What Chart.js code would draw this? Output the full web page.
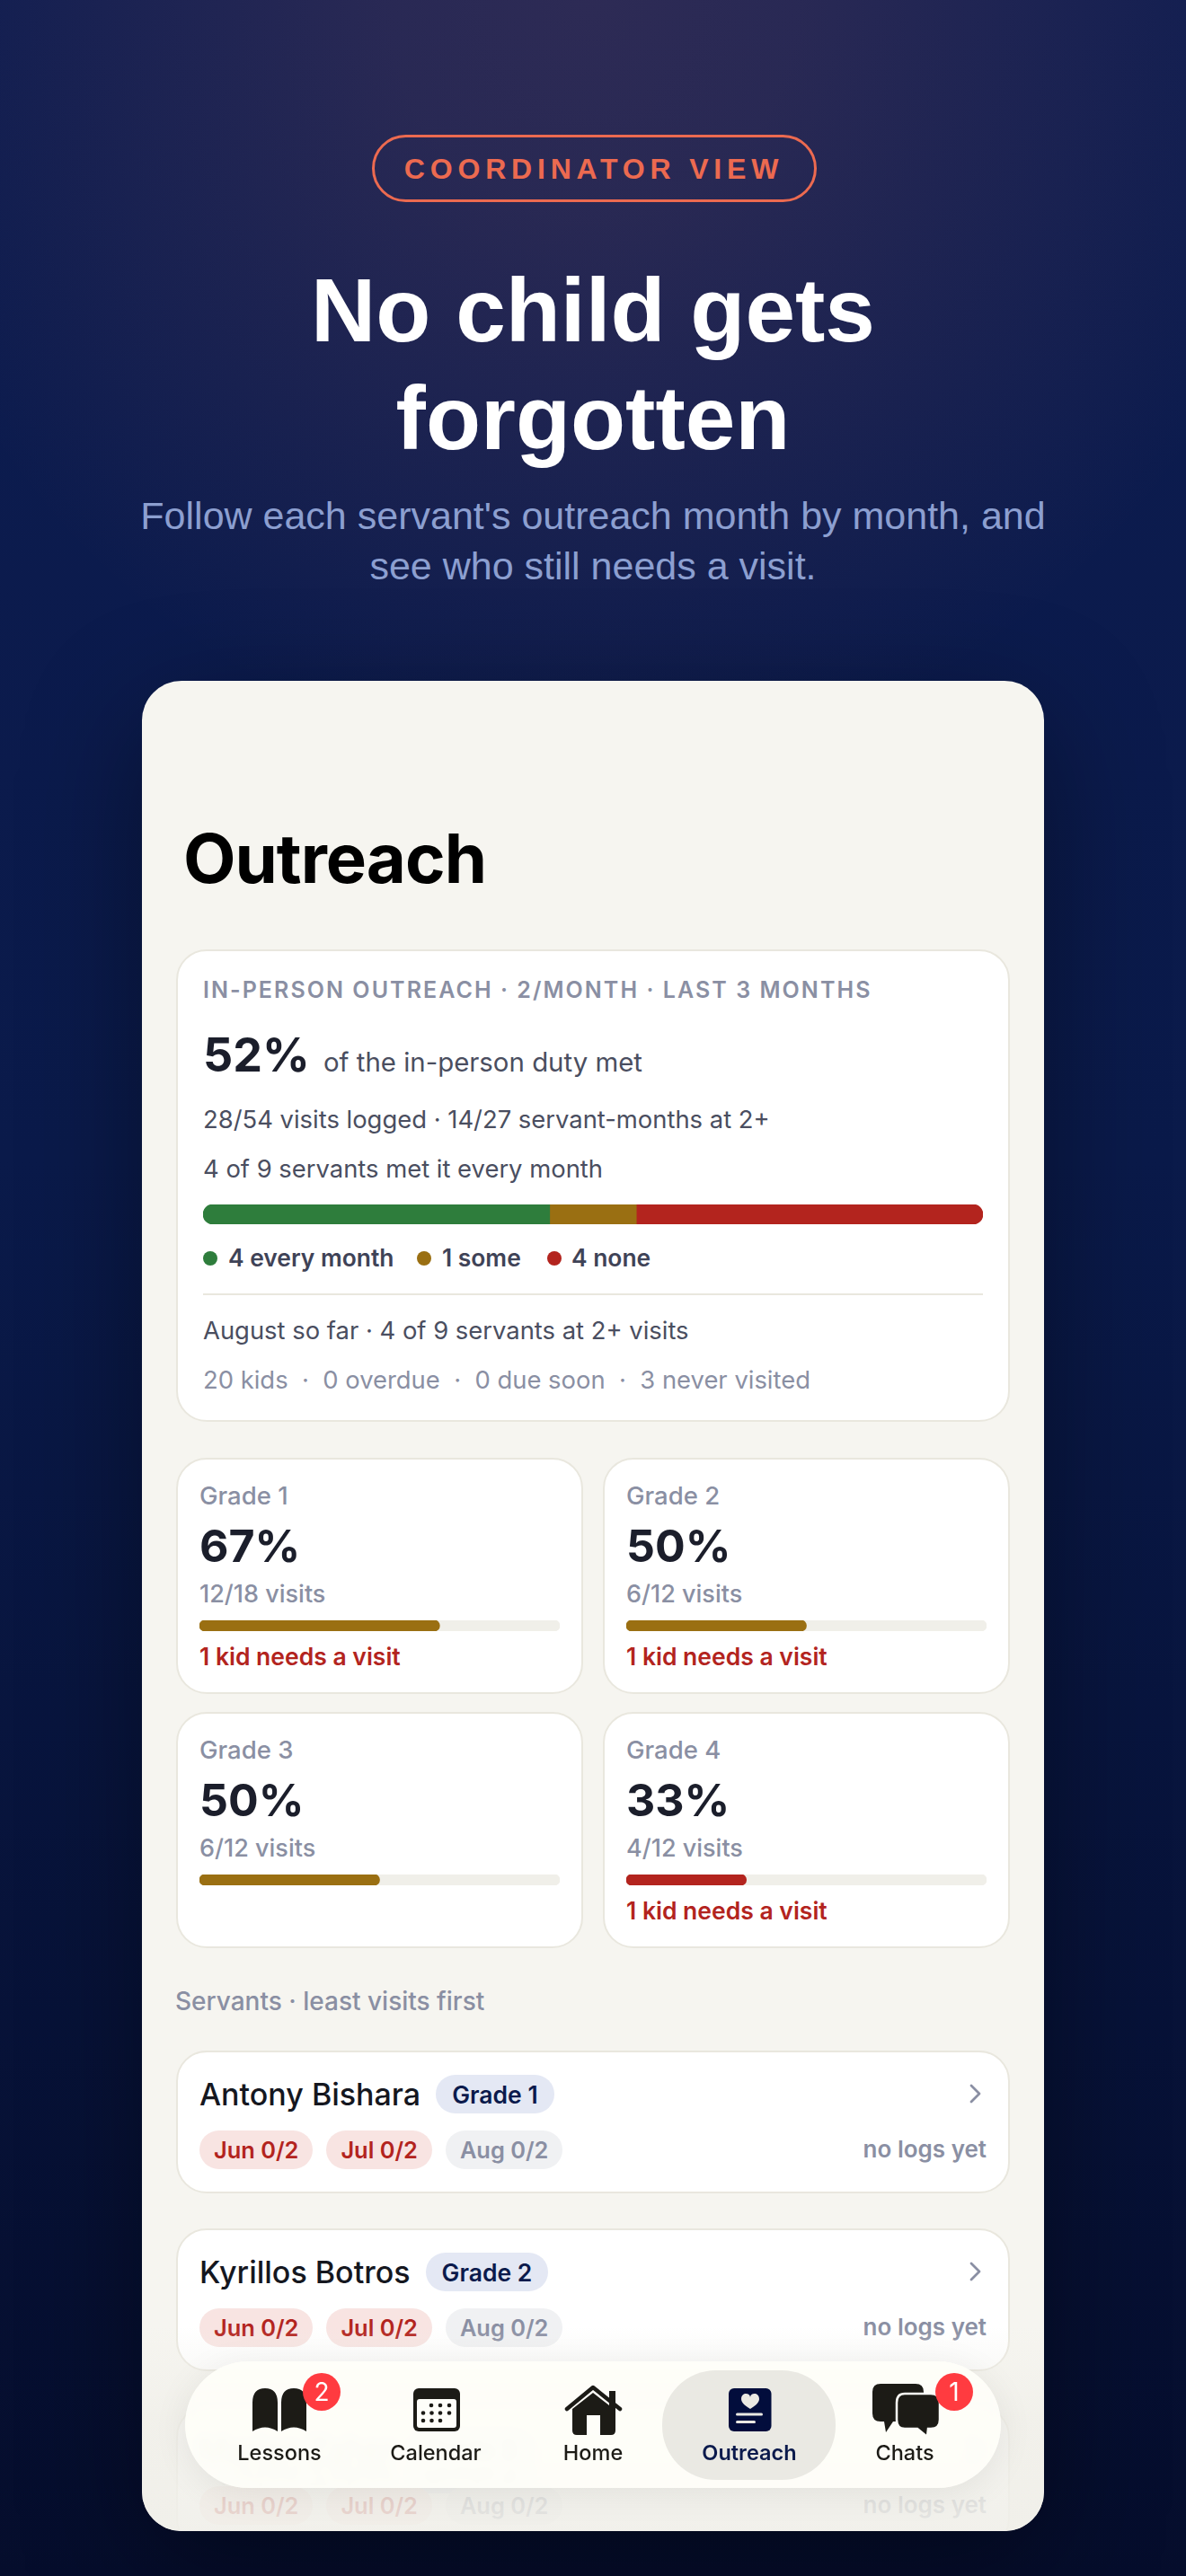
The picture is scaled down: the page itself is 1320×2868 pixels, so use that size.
<!DOCTYPE html>
<html lang="en"><head><meta charset="utf-8"><title>Outreach</title>
<script src="https://cdn.jsdelivr.net/npm/chart.js@4"></script>
<style>
html,body{margin:0;padding:0;width:1320px;height:2868px;overflow:hidden}
body{position:relative;font-family:Inter,sans-serif;font-variation-settings:"opsz" 14;background:
 radial-gradient(ellipse 820px 860px at 50% 0,rgba(235,130,115,.145) 0%,rgba(235,130,115,.125) 28%,rgba(235,130,115,0) 100%),
 linear-gradient(180deg,#0D1C50 0%,#0A1A4A 45%,#050D2C 100%)}
.t{position:absolute;white-space:pre;line-height:0}
.abs{position:absolute}
#pill{left:414px;top:150px;width:489px;height:69px;border:3px solid #EC6A50;border-radius:40px}
#phone{left:158px;top:758px;width:1004px;height:2060px;background:#F6F5F0;border-radius:44px;overflow:hidden;box-shadow:0 40px 130px rgba(0,0,0,.38)}
#content{position:absolute;left:-158px;top:-758px;width:1320px;height:2868px}
.card{position:absolute;box-sizing:border-box;background:#fff;border:2px solid #E9E7DE;border-radius:34px}
.row{position:absolute;display:flex;align-items:center;white-space:nowrap}
.badge{height:43px;display:flex;align-items:center;border-radius:22px;font-size:26.5px;font-weight:600;background:#E4E8F4;color:#0B1A4C;padding:0 18px;margin-left:17px}
.chip{height:43px;display:flex;align-items:center;border-radius:22px;font-size:25.4px;font-weight:600;padding:0 16px;margin-right:15px}
.chip.miss{background:#F8E4E2;color:#B3241E}.chip.soon{background:#F0F1F3;color:#8A8FA3}
.dot{position:absolute;width:16px;height:16px;border-radius:50%}
#fade{position:absolute;left:0;top:2590px;width:1320px;height:228px;background:linear-gradient(180deg,rgba(244,243,238,0) 0%,rgba(240,239,233,.72) 45%,rgba(240,239,233,.9) 100%)}
#nav{position:absolute;left:206px;top:2629px;width:908px;height:141px;border-radius:71px;background:rgba(254,254,249,.93);backdrop-filter:blur(5px);box-shadow:0 6px 40px rgba(0,0,0,.07);overflow:hidden}
#active{position:absolute;left:737px;top:2639px;width:193px;height:122px;border-radius:60px;background:#EAE9E3}
.tab{position:absolute;transform:translateX(-50%);white-space:nowrap;line-height:0;font-size:23.5px;font-weight:500;color:#1C1B16;top:2731px}
.count{position:absolute;width:42px;height:42px;border-radius:50%;background:#FF3B40;color:#fff;font-size:28px;font-weight:400;display:flex;align-items:center;justify-content:center}
</style></head><body>
<div id="pill" class="abs"></div>
<div id="phone" class="abs"><div id="content"></div></div>
<script>
// ---- data ----
const compositionLabels = ['every month', 'some', 'none'];
const compositionValues = [4, 1, 4];
const compositionColors = ['#2E7D3C', '#9A6F12', '#B3241E'];
const gradeNames = ['Grade 1', 'Grade 2', 'Grade 3', 'Grade 4'];
const gradeVisits = [12, 6, 6, 4];
const gradeDuty = [18, 12, 12, 12];
const gradePercents = ['67%', '50%', '50%', '33%'];
const gradeColors = ['#9A6F12', '#9A6F12', '#9A6F12', '#B3241E'];
const gradeNotes = ['1 kid needs a visit', '1 kid needs a visit', '', '1 kid needs a visit'];
const servantNames = ['Antony Bishara', 'Kyrillos Botros', 'Marian Zaher'];
const servantGrades = ['Grade 1', 'Grade 2', 'Grade 3'];
const monthChips = ['Jun 0/2', 'Jul 0/2', 'Aug 0/2'];
const tabNames = ['Lessons', 'Calendar', 'Home', 'Outreach', 'Chats'];

const INTER = 'Inter,sans-serif', LIB = '"Liberation Sans",Arial,sans-serif';
const content = document.getElementById('content');
function t(parent, str, x, base, fs, w, col, o = {}) {
  const e = document.createElement('div');
  e.className = 't'; e.textContent = str;
  const fam = o.fam || INTER;
  const k = fam === LIB ? .3465 : .364;
  e.style.cssText += `top:${base - k * fs}px;font-family:${fam};font-size:${fs}px;font-weight:${w};color:${col};` +
    `font-variation-settings:"opsz" ${Math.max(14, Math.min(32, fs / 2))};` +
    (o.ls ? `letter-spacing:${o.ls}px;` : '') +
    (o.center ? `left:${x}px;transform:translateX(-50%);` : o.right ? `right:${1320 - x}px;` : `left:${x}px;`);
  parent.appendChild(e); return e;
}
function box(cls, x, y, w, h) {
  const e = document.createElement('div'); e.className = cls;
  e.style.cssText += `left:${x}px;top:${y}px;width:${w}px;height:${h}px;`;
  content.appendChild(e); return e;
}
function chartBox(x, y, w, h) {
  const d = document.createElement('div');
  d.style.cssText = `position:absolute;left:${x}px;top:${y}px;width:${w}px;height:${h}px;`;
  const c = document.createElement('canvas'); d.appendChild(c); content.appendChild(d); return c;
}
const baseOpts = (max, stackX) => ({
  indexAxis: 'y', responsive: true, maintainAspectRatio: false, animation: false,
  layout: { padding: 0 }, events: [],
  plugins: { legend: { display: false }, tooltip: { enabled: false } },
  scales: {
    x: { display: false, min: 0, max, stacked: stackX },
    y: { display: false, stacked: true }
  }
});

// header
const body = document.body;
t(body, 'COORDINATOR VIEW', 661, 199, 32, 700, '#EC6A50', { fam: LIB, center: true, ls: 5.8 });
t(body, 'No child gets', 660, 380, 100, 700, '#fff', { fam: LIB, center: true });
t(body, 'forgotten', 660, 500, 100, 700, '#fff', { fam: LIB, center: true });
t(body, "Follow each servant's outreach month by month, and", 660, 589, 43, 400, '#8C9FD0', { fam: LIB, center: true });
t(body, 'see who still needs a visit.', 660, 645, 43, 400, '#8C9FD0', { fam: LIB, center: true });

// screen title
t(content, 'Outreach', 204, 983, 76, 700, '#000', { ls: -1 });

// summary card
box('card', 196, 1057, 928, 526);
t(content, 'IN-PERSON OUTREACH · 2/MONTH · LAST 3 MONTHS', 226, 1111, 25, 600, '#8A8FA3', { ls: 2.05 });
t(content, '52%', 226, 1194, 52, 700, '#1B1E2B');
t(content, 'of the in-person duty met', 360, 1194, 29.4, 400, '#4A4E60');
t(content, '28/54 visits logged · 14/27 servant-months at 2+', 226, 1256, 27.4, 400, '#4A4E60');
t(content, '4 of 9 servants met it every month', 226, 1311, 27.4, 400, '#4A4E60');

new Chart(chartBox(226, 1341, 868, 22), {
  type: 'bar',
  data: {
    labels: ['servants'],
    datasets: compositionValues.map((v, i) => ({
      label: compositionLabels[i], data: [v], backgroundColor: compositionColors[i],
      categoryPercentage: 1, barPercentage: 1, borderSkipped: false,
      borderRadius: i === 0 ? { topLeft: 11, bottomLeft: 11 } : i === compositionValues.length - 1 ? { topRight: 11, bottomRight: 11 } : 0
    }))
  },
  options: baseOpts(compositionValues.reduce((a, b) => a + b, 0), true)
});

const dotX = [226, 464, 609], labelX = [254, 492, 636];
compositionLabels.forEach((l, i) => {
  const d = box('dot', dotX[i], 1393, 16, 16); d.style.background = compositionColors[i];
  t(content, compositionValues[i] + ' ' + l, labelX[i], 1410, 26.4, 600, '#3F4357');
});
box('abs', 226, 1440, 868, 2).style.background = '#E9E7DE';
t(content, 'August so far · 4 of 9 servants at 2+ visits', 226, 1491, 27.4, 400, '#4A4E60');
t(content, '20 kids  ·  0 overdue  ·  0 due soon  ·  3 never visited', 226, 1546, 27.4, 400, '#8A8FA3');

// grade cards
gradeNames.forEach((g, i) => {
  const cx = i % 2 ? 671 : 196, dy = i > 1 ? 283 : 0, x = cx + 26;
  box('card', cx, 1623 + dy, 453, 263);
  t(content, g, x, 1675 + dy, 27.5, 500, '#8A8FA3');
  t(content, gradePercents[i], x, 1739 + dy, 50, 650, '#1B1E2B');
  t(content, gradeVisits[i] + '/' + gradeDuty[i] + ' visits', x, 1785 + dy, 27, 500, '#8A8FA3');
  new Chart(chartBox(x, 1804 + dy, 401, 12), {
    type: 'bar',
    data: {
      labels: [g],
      datasets: [
        { label: 'visits', data: [gradeVisits[i]], backgroundColor: gradeColors[i], order: 1,
          categoryPercentage: 1, barPercentage: 1, borderRadius: 6, borderSkipped: false },
        { label: 'duty', data: [gradeDuty[i]], backgroundColor: '#F0EFE9', order: 2,
          categoryPercentage: 1, barPercentage: 1, borderRadius: 6, borderSkipped: false }
      ]
    },
    options: baseOpts(gradeDuty[i], false)
  });
  if (gradeNotes[i]) t(content, gradeNotes[i], x, 1854 + dy, 26.5, 600, '#B3241E');
});

// servants
t(content, 'Servants · least visits first', 195, 2238, 28, 500, '#8A8FA3');
servantNames.forEach((n, i) => {
  const dy = i * 198;
  box('card', 196, 2283 + dy, 928, 159);
  const r = document.createElement('div');
  r.className = 'row'; r.style.cssText += `left:222px;top:${2310 + dy}px;height:43px;`;
  if (i === 2) r.style.webkitBoxReflect = 'below -16px linear-gradient(to right, transparent 24px, #000 60px)';
  r.innerHTML = `<span style="font-size:34px;font-weight:500;color:#15171F;font-variation-settings:'opsz' 17"></span><span class="badge"></span>`;
  r.children[0].textContent = n; r.children[1].textContent = servantGrades[i];
  content.appendChild(r);
  const chev = document.createElementNS('http://www.w3.org/2000/svg', 'svg');
  chev.setAttribute('width', 20); chev.setAttribute('height', 28);
  chev.style.cssText = `position:absolute;left:1076px;top:${2317 + dy}px`;
  chev.innerHTML = '<polyline points="5,5 14,14 5,23" fill="none" stroke="#8A8FA3" stroke-width="2.8" stroke-linecap="round" stroke-linejoin="round"/>';
  content.appendChild(chev);
  const c = document.createElement('div');
  c.className = 'row'; c.style.cssText += `left:222px;top:${2372 + dy}px;height:43px;`;
  monthChips.forEach((m, j) => {
    const s = document.createElement('span');
    s.className = 'chip ' + (j < 2 ? 'miss' : 'soon'); s.textContent = m; c.appendChild(s);
  });
  content.appendChild(c);
  t(content, 'no logs yet', 1098, 2402 + dy, 26, 600, '#8A8FA3', { right: true });
});

// fade + nav bar
const fade = document.createElement('div'); fade.id = 'fade'; content.appendChild(fade);
const nav = document.createElement('div'); nav.id = 'nav'; content.appendChild(nav);
const active = document.createElement('div'); active.id = 'active'; content.appendChild(active);

const INK = '#1C1B16';
const icons = document.createElementNS('http://www.w3.org/2000/svg', 'svg');
icons.setAttribute('width', 1320); icons.setAttribute('height', 2868);
icons.style.cssText = 'position:absolute;left:0;top:0';
let calDots = '';
[[2678, [480, 490, 500]], [2686.5, [471, 480.5, 490, 500]], [2695, [471, 480.5, 490]]].forEach(([y, xs]) =>
  xs.forEach(x => calDots += `<circle cx="${x}" cy="${y}" r="2.3" fill="${INK}"/>`));
icons.innerHTML = `
<path fill="${INK}" d="M281 2707V2675Q281 2659 295 2659Q309 2659 309 2675V2707Q295 2698 281 2707Z"/>
<path fill="${INK}" d="M313 2707V2675Q313 2659 327 2659Q341 2659 341 2675V2707Q327 2698 313 2707Z"/>
<rect x="460" y="2659" width="52" height="48" rx="6" fill="${INK}"/>
<rect x="464" y="2671" width="44" height="32" rx="3" fill="#FEFEF9"/>${calDots}
<path d="M631 2682L660 2658L690 2682" fill="none" stroke="${INK}" stroke-width="4.5" stroke-linecap="round" stroke-linejoin="round"/>
<path fill="${INK}" d="M637 2682L660 2664L678 2678V2662H685V2684V2706Q685 2711 680 2711H642Q637 2711 637 2706Z"/>
<rect x="653" y="2689" width="15" height="22" fill="#FEFEF9"/>
<rect x="811" y="2659" width="47.5" height="48" rx="6" fill="#020D3C"/>
<path fill="#EAE9E3" d="M826 2672c0-8 10-7 10-2c0-5 10-6 10 2c0 4-5 8-10 11c-5-3-10-7-10-11Z" transform="translate(-1 -1) scale(1)"/>
<rect x="819" y="2686.5" width="30" height="3" rx="1.5" fill="#EAE9E3"/>
<rect x="819" y="2695" width="22" height="3" rx="1.5" fill="#EAE9E3"/>
<path fill="${INK}" d="M980 2654H1019Q1028 2654 1028 2663V2684Q1028 2696 1016 2696H994L986 2708L984 2696H980Q971 2696 971 2687V2663Q971 2654 980 2654Z"/>
<path fill="${INK}" stroke="#FEFEF9" stroke-width="2.5" d="M1007 2665H1036Q1046 2665 1046 2675V2694Q1046 2704 1036 2704H1033L1032 2713L1021 2704H1007Q998 2704 998 2694V2675Q998 2665 1007 2665Z"/>`;
content.appendChild(icons);

const tabX = [311, 485, 660, 834, 1007];
tabNames.forEach((n, i) => {
  const e = document.createElement('div'); e.className = 'tab'; e.textContent = n;
  e.style.left = tabX[i] + 'px';
  if (n === 'Outreach') { e.style.color = '#0B1A4C'; e.style.fontWeight = '600'; }
  content.appendChild(e);
});
[[337, '2'], [1041, '1']].forEach(([x, s]) => {
  const c = document.createElement('div'); c.className = 'count';
  c.style.left = x + 'px'; c.style.top = '2642px'; c.textContent = s; content.appendChild(c);
});
</script>
</body></html>
